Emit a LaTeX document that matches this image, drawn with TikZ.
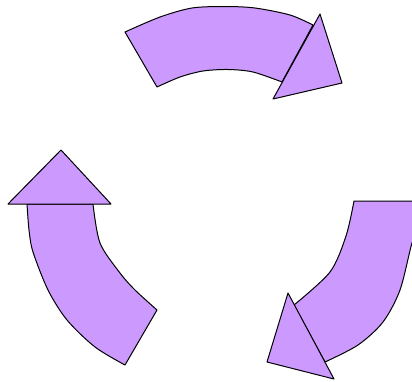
\documentclass[tikz,border=0pt]{standalone}
\begin{document}
\begin{tikzpicture}[x=1pt,y=-1pt,
  shp/.style={fill=lav,draw=black,line width=1pt,line join=round}]
\definecolor{lav}{RGB}{204,153,255}
\useasboundingbox (0,0) rectangle (412,381);
\clip (0,0) rectangle (412,381);
% top arrow
\draw[shp] (125,32) -- plot[smooth] coordinates {(125,32) (160,17) (192,8) (225,6.5) (255,8) (290,15) (313,25)}
  -- (282,82) -- plot[smooth] coordinates {(282,82) (253,72) (228,69.5) (203,71) (180,77) (157,87)} -- cycle;
\draw[shp] (320,14) -- (342,83) -- (273,99) -- cycle;
% left arrow
\draw[shp] (27,204) -- plot[smooth] coordinates {(27,204) (29,230) (33,252) (48,290) (67,320) (95,347) (125,365)}
  -- (157,310) -- plot[smooth] coordinates {(157,310) (135,290) (120,273) (100,243) (93,204)} -- cycle;
\draw[shp] (61,150) -- (8,204) -- (111,204) -- cycle;
% right arrow
\draw[shp] (354,201) -- (420,201) -- (420,225) -- plot[smooth] coordinates {(420,225) (412,243) (400,290) (383,322) (358,345) (325,362)}
  -- (294,305) -- plot[smooth] coordinates {(294,305) (330,272) (346,236) (354,201)} -- cycle;
\draw[shp] (288,293) -- (267,362) -- (334,379) -- cycle;
\end{tikzpicture}
\end{document}
